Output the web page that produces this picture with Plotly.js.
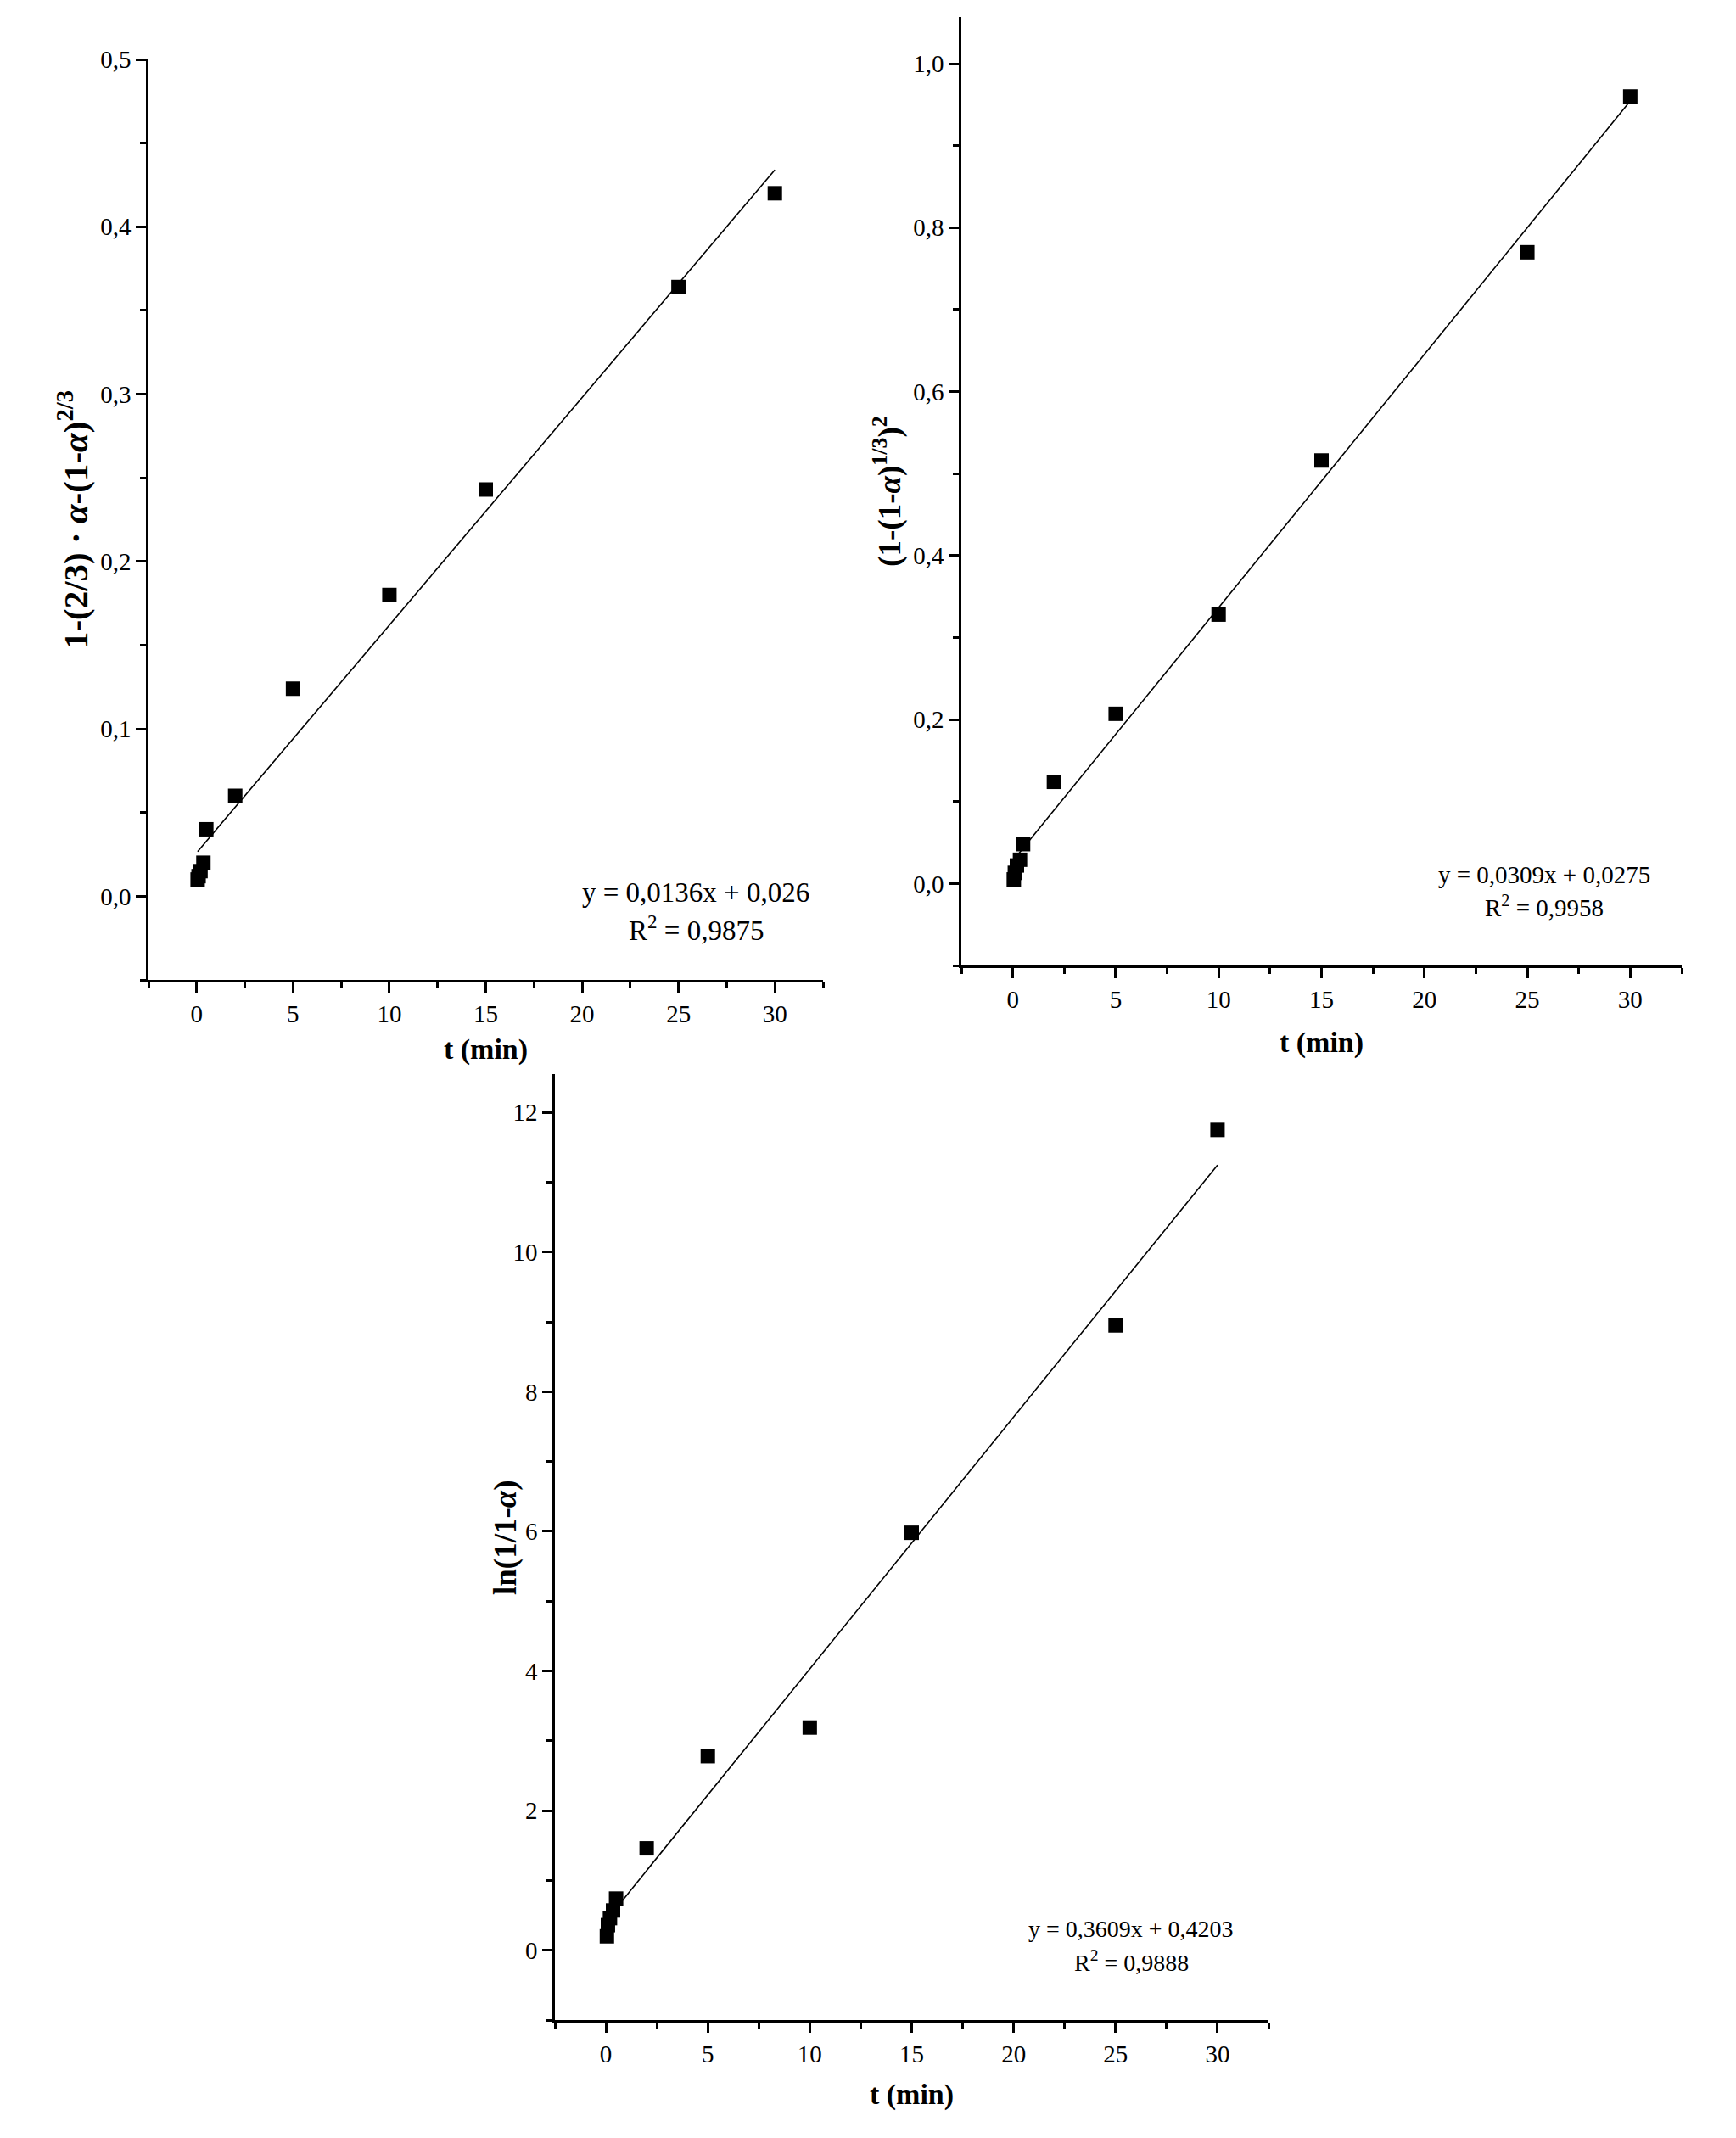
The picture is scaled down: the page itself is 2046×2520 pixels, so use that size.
<!DOCTYPE html>
<html>
<head>
<meta charset="utf-8">
<script src="https://cdn.plot.ly/plotly-3.0.1.min.js"></script>
<style>
  html, body { margin: 0; padding: 0; background: #ffffff; }
  #chart { width: 2046px; height: 2520px; }
</style>
</head>
<body>
<div id="chart"></div>
<script>
// ---- data ----
const tMin = [0.05, 0.1, 0.2, 0.35, 0.5, 2, 5, 10, 15, 25, 30];

const yContracting = [0.010, 0.012, 0.015, 0.020, 0.040, 0.060, 0.124, 0.180, 0.243, 0.364, 0.420];
const yJander      = [0.005, 0.013, 0.022, 0.029, 0.048, 0.124, 0.207, 0.328, 0.516, 0.770, 0.960];
const yFirstOrder  = [0.20, 0.36, 0.46, 0.57, 0.74, 1.46, 2.78, 3.19, 5.98, 8.95, 11.75];

const slopes     = [0.0136, 0.0309, 0.3609];
const intercepts = [0.026, 0.0275, 0.4203];
const eqLabels   = ['y = 0,0136x + 0,026', 'y = 0,0309x + 0,0275', 'y = 0,3609x + 0,4203'];
const r2Labels   = ['R<sup>2</sup> = 0,9875', 'R<sup>2</sup> = 0,9958', 'R<sup>2</sup> = 0,9888'];
const yTitles = [
  '<b>1-(2/3) · <i>α</i>-(1-<i>α</i>)<sup>2/3</sup></b>',
  '<b>(1-(1-<i>α</i>)<sup>1/3</sup>)<sup>2</sup></b>',
  '<b>ln(1/1-<i>α</i>)</b>'
];
const xTitle = '<b>t (min)</b>';

// ---- styling ----
const FONT = 'Liberation Serif, Times New Roman, serif';
const TICK = 29;
const seriesY = [yContracting, yJander, yFirstOrder];
const suffix = ['', '2', '3'];

const traces = [];
seriesY.forEach((ys, i) => {
  const xa = 'x' + suffix[i], ya = 'y' + suffix[i];
  const tStart = tMin[0], tEnd = tMin[tMin.length - 1];
  traces.push({
    x: [tStart, tEnd],
    y: [slopes[i] * tStart + intercepts[i], slopes[i] * tEnd + intercepts[i]],
    xaxis: xa, yaxis: ya, mode: 'lines', type: 'scatter',
    line: { color: '#000000', width: 1.6 }, hoverinfo: 'skip'
  });
  traces.push({
    x: tMin, y: ys, xaxis: xa, yaxis: ya, mode: 'markers', type: 'scatter',
    marker: { symbol: 'square', size: 17, color: '#000000', line: { width: 0 } }
  });
});

function axisBase(extra) {
  return Object.assign({
    showline: true, linecolor: '#000000', linewidth: 2.5,
    ticks: 'outside', ticklen: 12, tickwidth: 2.5, tickcolor: '#000000',
    showgrid: false, zeroline: false,
    tickfont: { family: FONT, size: TICK, color: '#000000' },
    fixedrange: true
  }, extra);
}
function minor(d) {
  return { ticks: 'outside', ticklen: 7, tickwidth: 2.5, tickcolor: '#000000', dtick: d, tick0: 0 };
}

const W = 2046, H = 2520;
const px = v => v / W;
const py = v => 1 - v / H;

const layout = {
  width: W, height: H,
  margin: { l: 0, r: 0, t: 0, b: 0 },
  paper_bgcolor: '#ffffff', plot_bgcolor: '#ffffff',
  showlegend: false,
  separators: ', ',
  font: { family: FONT, color: '#000000' },

  xaxis: axisBase({
    domain: [px(175), px(970)], anchor: 'y', range: [-2.5, 32.5], dtick: 5, tick0: 0, minor: minor(2.5),
    title: { text: xTitle, font: { family: FONT, size: 34, color: '#000000' }, standoff: 15 }
  }),
  yaxis: axisBase({
    domain: [py(1155), py(70)], anchor: 'x', range: [-0.05, 0.5], dtick: 0.1, tick0: 0, tickformat: '.1f', minor: minor(0.05),
    title: { text: yTitles[0], font: { family: FONT, size: 41, color: '#000000' }, standoff: 2 }
  }),

  xaxis2: axisBase({
    domain: [px(1133), px(1982)], anchor: 'y2', range: [-2.5, 32.5], dtick: 5, tick0: 0, minor: minor(2.5),
    title: { text: xTitle, font: { family: FONT, size: 34, color: '#000000' }, standoff: 24 }
  }),
  yaxis2: axisBase({
    domain: [py(1138), py(20)], anchor: 'x2', range: [-0.1, 1.057], dtick: 0.2, tick0: 0, tickformat: '.1f', minor: minor(0.1),
    title: { text: yTitles[1], font: { family: FONT, size: 37, color: '#000000' }, standoff: 4 }
  }),

  xaxis3: axisBase({
    domain: [px(654), px(1495)], anchor: 'y3', range: [-2.5, 32.5], dtick: 5, tick0: 0, minor: minor(2.5),
    title: { text: xTitle, font: { family: FONT, size: 34, color: '#000000' }, standoff: 21 }
  }),
  yaxis3: axisBase({
    domain: [py(2381), py(1266)], anchor: 'x3', range: [-1, 12.55], dtick: 2, tick0: 0, minor: minor(1)
  }),

  annotations: [
    { text: yTitles[2], xref: 'paper', yref: 'paper', x: px(596), y: py(1812), xanchor: 'center', yanchor: 'middle', textangle: -90, showarrow: false, font: { family: FONT, size: 37, color: '#000000' } },
    { text: eqLabels[0], xref: 'paper', yref: 'paper', x: px(820), y: py(1052), xanchor: 'center', yanchor: 'middle', showarrow: false, font: { family: FONT, size: 33, color: '#000000' } },
    { text: r2Labels[0], xref: 'paper', yref: 'paper', x: px(820), y: py(1094), xanchor: 'center', yanchor: 'middle', showarrow: false, font: { family: FONT, size: 33, color: '#000000' } },
    { text: eqLabels[1], xref: 'paper', yref: 'paper', x: px(1820), y: py(1031), xanchor: 'center', yanchor: 'middle', showarrow: false, font: { family: FONT, size: 29, color: '#000000' } },
    { text: r2Labels[1], xref: 'paper', yref: 'paper', x: px(1820), y: py(1068), xanchor: 'center', yanchor: 'middle', showarrow: false, font: { family: FONT, size: 29, color: '#000000' } },
    { text: eqLabels[2], xref: 'paper', yref: 'paper', x: px(1333), y: py(2273), xanchor: 'center', yanchor: 'middle', showarrow: false, font: { family: FONT, size: 28, color: '#000000' } },
    { text: r2Labels[2], xref: 'paper', yref: 'paper', x: px(1333), y: py(2311), xanchor: 'center', yanchor: 'middle', showarrow: false, font: { family: FONT, size: 28, color: '#000000' } }
  ]
};

Plotly.newPlot('chart', traces, layout, { displayModeBar: false, responsive: false });
</script>
</body>
</html>
